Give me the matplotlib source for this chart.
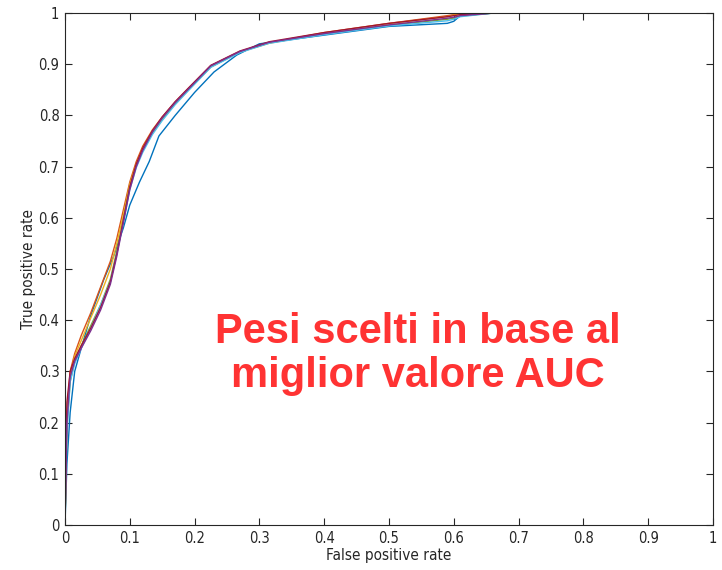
import matplotlib
matplotlib.use('Agg')
import matplotlib.pyplot as plt

# ROC curves (fpr, tpr)
fpr_blue = [0, 0.003, 0.008, 0.015, 0.025, 0.04, 0.06, 0.075, 0.09, 0.1, 0.115, 0.13, 0.145, 0.17, 0.2, 0.23, 0.265, 0.3, 0.4, 0.5, 0.59, 0.6, 0.61, 0.66, 1.0]
tpr_blue = [0, 0.12, 0.22, 0.3, 0.345, 0.41, 0.48, 0.525, 0.58, 0.625, 0.67, 0.71, 0.76, 0.8, 0.845, 0.885, 0.918, 0.94, 0.957, 0.974, 0.98, 0.984, 0.995, 1, 1]

fpr_common = [0, 0.003, 0.008, 0.015, 0.025, 0.04, 0.055, 0.07, 0.08, 0.09, 0.1, 0.11, 0.12, 0.135, 0.15, 0.17, 0.19, 0.225, 0.27, 0.315, 0.4, 0.5, 0.59, 0.6, 0.61, 0.66, 1.0]
tpr_orange = [0, 0.22, 0.3, 0.335, 0.37, 0.415, 0.465, 0.515, 0.56, 0.615, 0.67, 0.71, 0.74, 0.772, 0.797, 0.826, 0.852, 0.897, 0.925, 0.942, 0.962, 0.98, 0.995, 0.997, 0.998, 1, 1]
tpr_yellow = [0, 0.21, 0.29, 0.33, 0.36, 0.405, 0.45, 0.5, 0.55, 0.605, 0.665, 0.705, 0.735, 0.768, 0.794, 0.824, 0.85, 0.895, 0.924, 0.941, 0.961, 0.979, 0.993, 0.996, 0.998, 1, 1]
tpr_purple = [0, 0.2, 0.29, 0.32, 0.345, 0.38, 0.42, 0.47, 0.525, 0.59, 0.655, 0.7, 0.732, 0.768, 0.795, 0.825, 0.851, 0.897, 0.925, 0.943, 0.96, 0.977, 0.99, 0.992, 0.995, 1, 1]
tpr_green = [0, 0.19, 0.28, 0.32, 0.35, 0.39, 0.43, 0.48, 0.535, 0.595, 0.66, 0.702, 0.732, 0.766, 0.792, 0.823, 0.849, 0.895, 0.924, 0.942, 0.959, 0.976, 0.988, 0.99, 0.994, 1, 1]
tpr_cyan = [0, 0.18, 0.28, 0.315, 0.345, 0.385, 0.43, 0.475, 0.53, 0.59, 0.655, 0.698, 0.728, 0.763, 0.79, 0.821, 0.848, 0.894, 0.923, 0.941, 0.958, 0.975, 0.985, 0.988, 0.993, 1, 1]
tpr_red = [0, 0.24, 0.3, 0.325, 0.35, 0.385, 0.425, 0.475, 0.53, 0.595, 0.66, 0.705, 0.736, 0.77, 0.797, 0.827, 0.853, 0.898, 0.926, 0.944, 0.962, 0.98, 0.993, 0.995, 0.997, 1, 1]

plt.rcParams['font.family'] = ['DejaVu Sans']
plt.rcParams['font.stretch'] = 'condensed'

fig = plt.figure(figsize=(7.22, 5.70), dpi=100)
ax = fig.add_axes([0.09, 0.079, 0.8975, 0.898])

lw = 1.0
ax.plot(fpr_blue, tpr_blue, color='#0072BD', lw=lw)
ax.plot(fpr_common, tpr_orange, color='#D95319', lw=lw)
ax.plot(fpr_common, tpr_yellow, color='#EDB120', lw=lw)
ax.plot(fpr_common, tpr_green, color='#77AC30', lw=lw)
ax.plot(fpr_common, tpr_cyan, color='#4DBEEE', lw=lw)
ax.plot(fpr_common, tpr_red, color='#A2142F', lw=lw)
ax.plot(fpr_common, tpr_purple, color='#7E2F8E', lw=lw)

ax.set_xlim(0, 1)
ax.set_ylim(0, 1)
ticks = [0, 0.1, 0.2, 0.3, 0.4, 0.5, 0.6, 0.7, 0.8, 0.9, 1]
labels = ['0', '0.1', '0.2', '0.3', '0.4', '0.5', '0.6', '0.7', '0.8', '0.9', '1']
ax.set_xticks(ticks)
ax.set_xticklabels(labels)
ax.set_yticks(ticks)
ax.set_yticklabels(labels)
ax.tick_params(direction='in', top=True, right=True, length=5, width=0.8,
               colors='#262626', labelsize=10.5, pad=4)
for s in ax.spines.values():
    s.set_color('#262626')
    s.set_linewidth(0.8)

ax.set_xlabel('False positive rate', fontsize=11, color='#262626', labelpad=2)
ax.set_ylabel('True positive rate', fontsize=11, color='#262626', labelpad=2)

ax.text(0.545, 0.334, 'Pesi scelti in base al\nmiglior valore AUC', transform=ax.transAxes,
        ha='center', va='center', fontsize=30, fontweight='bold', color='#FF3333',
        family='Liberation Sans', fontstretch='normal', linespacing=1.15)

fig.savefig('out.png', dpi=100)
